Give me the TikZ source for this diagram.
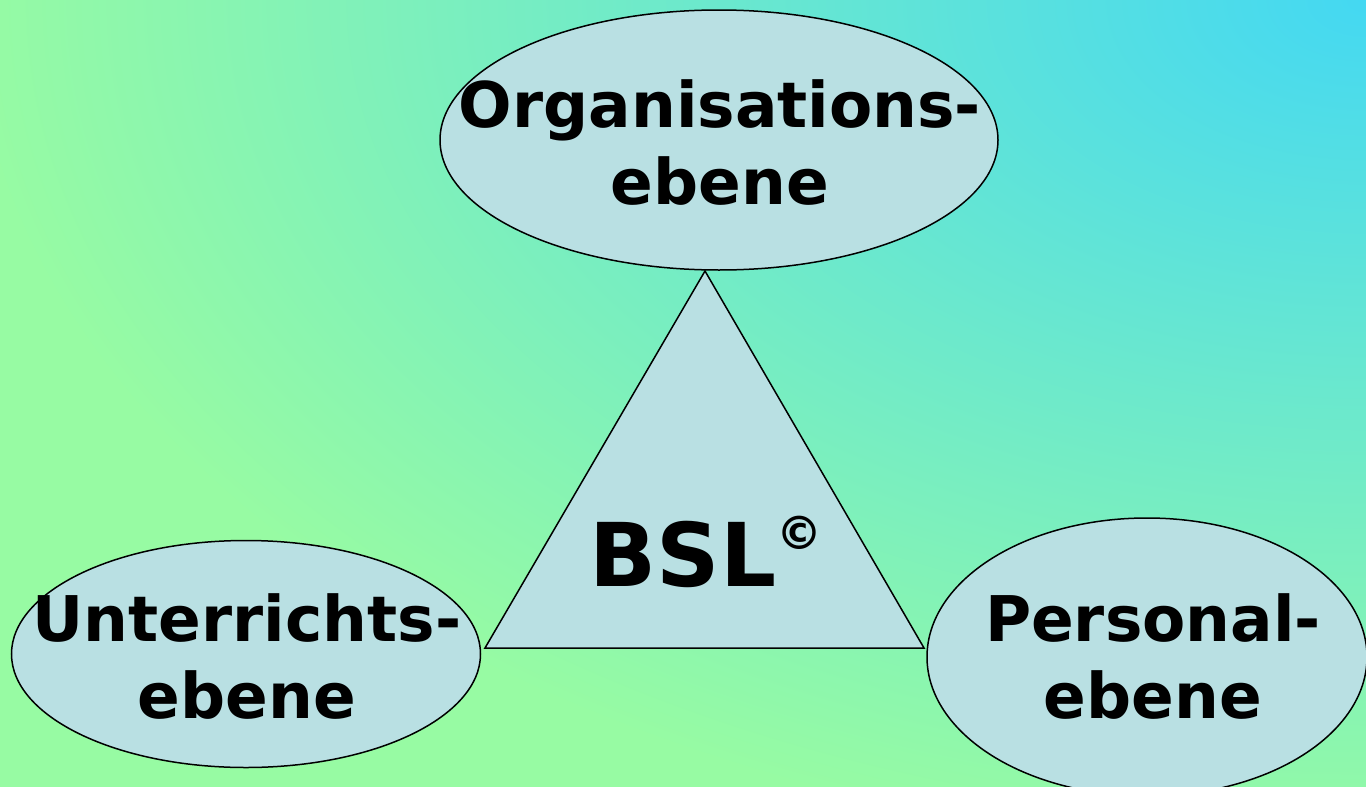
\documentclass[tikz,border=0pt]{standalone}
\usepackage{fontspec}
\setmainfont{DejaVu Sans}
\usetikzlibrary{shapes.geometric}
\definecolor{bggreen}{HTML}{97FBA3}
\definecolor{bgcyan}{HTML}{44D8F2}
\definecolor{levelfill}{HTML}{B9E0E3}
\tikzset{
  level/.style={ellipse, draw=black, line width=1.5pt, fill=levelfill, inner sep=0pt},
  lbl/.style={align=center, font=\bfseries\fontsize{63}{77}\selectfont, inner sep=0pt}
}
\begin{document}
\begin{tikzpicture}[x=1pt,y=-1pt]
    \useasboundingbox (0,0) rectangle (1366,787);
    % Background
    \begin{scope}
      \clip (0,0) rectangle (1366,787);
      \fill[bggreen] (0,0) rectangle (1366,787);
      \shade[inner color=bgcyan, outer color=bggreen] (1366,0) ellipse (1400pt and 860pt);
    \end{scope}
    % Organisation level
    \node[level, minimum width=558pt, minimum height=260pt] (org) at (719,140) {};
    \node[lbl] (orgtext) at (720,143) {Organisations-\\ebene};
    % Teaching level
    \node[level, minimum width=469pt, minimum height=227pt] (unt) at (246,654) {};
    \node[lbl] (unttext) at (247,657) {Unterrichts-\\ebene};
    % Staff level
    \node[level, minimum width=440pt, minimum height=278pt] (pers) at (1147,657) {};
    \node[lbl] (perstext) at (1153,657) {Personal-\\ebene};
    % Triangle
    \coordinate (apex) at (705,271);
    \coordinate (left) at (485,648);
    \coordinate (right) at (924,648);
    \draw[line width=1.5pt, fill=levelfill] (apex) -- (left) -- (right) -- cycle;
    \node[font=\bfseries\fontsize{88}{88}\selectfont, inner sep=0pt] (bsl) at (706,552)
      {BSL\raisebox{0.42em}{\fontsize{46}{46}\selectfont ©}};
\end{tikzpicture}
\end{document}
